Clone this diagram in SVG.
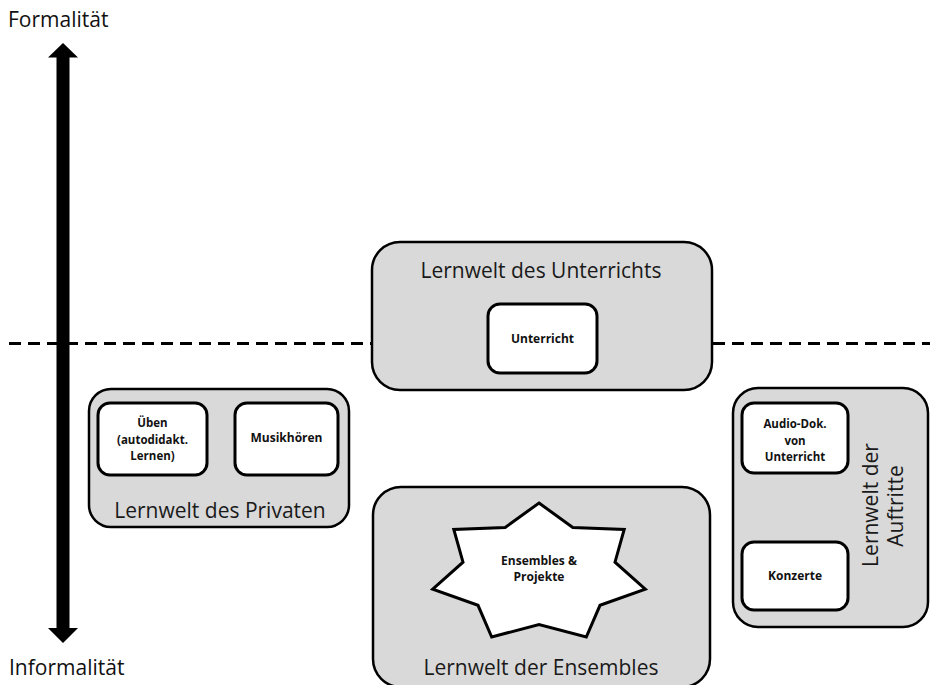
<svg xmlns="http://www.w3.org/2000/svg" width="930" height="685" viewBox="0 0 930 685">
<defs>
<style>
.world{fill:#d9d9d9;stroke:#000;stroke-width:2.5}
.item{fill:#fff;stroke:#000;stroke-width:3}
.title{font-family:"Open Sans","Liberation Sans",sans-serif;font-size:21px;fill:#1a1a1a;text-anchor:middle}
.lbl{font-family:"Open Sans","Liberation Sans",sans-serif;font-size:12px;font-weight:bold;fill:#111;text-anchor:middle}
.sm{font-size:11.5px}
.axis{font-family:"Open Sans","Liberation Sans",sans-serif;font-size:21px;fill:#111}
.dash{stroke:#000;stroke-width:3;stroke-dasharray:12 7;fill:none}
</style>
</defs>
<rect width="930" height="685" fill="#fff"/>
<g id="connectors">
<line class="dash" x1="9" y1="343.5" x2="372" y2="343.5"/>
<line class="dash" x1="713" y1="343.5" x2="930" y2="343.5"/>
<polygon id="axis-arrow" points="63,43 78,57.5 69.5,57.5 69.5,628 78,628 63,643 48,628 56.5,628 56.5,57.5 48,57.5" fill="#000"/>
</g>
<text class="axis" x="8" y="27">Formalität</text>
<text class="axis" x="9" y="675">Informalität</text>
<g id="lernwelt-unterricht">
<rect class="world" x="372" y="242" width="340" height="148" rx="28"/>
<text class="title" x="541" y="278">Lernwelt des Unterrichts</text>
</g>
<g id="unterricht">
<rect class="item" x="488" y="304" width="109" height="69" rx="12"/>
<text class="lbl" x="542.5" y="343">Unterricht</text>
</g>
<g id="lernwelt-privat">
<rect class="world" x="89" y="389" width="260" height="138" rx="22"/>
<text class="title" x="220" y="518">Lernwelt des Privaten</text>
</g>
<g id="ueben">
<rect class="item" x="98" y="403" width="109" height="72" rx="12"/>
<text class="lbl sm" x="152.5" y="427">Üben</text>
<text class="lbl sm" x="152.5" y="443.5">(autodidakt.</text>
<text class="lbl sm" x="152.5" y="460">Lernen)</text>
</g>
<g id="musikhoeren">
<rect class="item" x="235" y="403" width="103" height="72" rx="12"/>
<text class="lbl" x="286.5" y="442">Musikhören</text>
</g>
<g id="lernwelt-auftritte">
<rect class="world" x="733" y="388" width="195" height="239" rx="25"/>
<text class="title" transform="translate(878,505) rotate(-90)">Lernwelt  der</text>
<text class="title" transform="translate(903,506) rotate(-90)">Auftritte</text>
</g>
<g id="audio-dok">
<rect class="item" x="742" y="403" width="106" height="70" rx="12"/>
<text class="lbl sm" x="795" y="428">Audio-Dok.</text>
<text class="lbl sm" x="795" y="444.5">von</text>
<text class="lbl sm" x="795" y="461">Unterricht</text>
</g>
<g id="konzerte">
<rect class="item" x="742" y="542" width="106" height="68" rx="12"/>
<text class="lbl" x="795" y="580">Konzerte</text>
</g>
<g id="lernwelt-ensembles">
<rect class="world" x="373" y="487" width="337" height="200" rx="28"/>
<text class="title" x="541" y="675">Lernwelt der Ensembles</text>
</g>
<g id="ensembles-projekte">
<polygon class="item" points="539,503 572.8,527.5 624.2,529.5 615,562.2 645.3,589.2 600,605.3 586.3,637 539,624.5 491.7,637 478,605.3 432.7,589.2 463,562.2 453.8,529.5 505.2,527.5" stroke-linejoin="miter"/>
<text class="lbl" x="539" y="564.5">Ensembles &amp;</text>
<text class="lbl" x="539" y="581">Projekte</text>
</g>
</svg>
